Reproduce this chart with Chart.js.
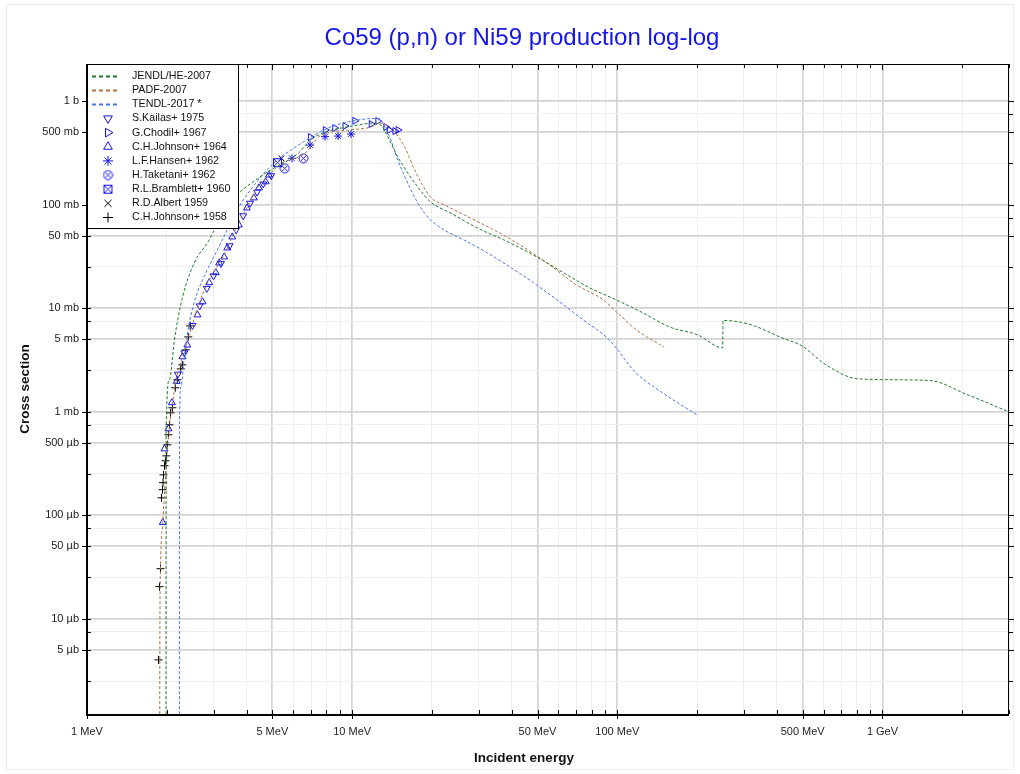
<!DOCTYPE html>
<html>
<head>
<meta charset="utf-8">
<title>Co59 (p,n) or Ni59 production log-log</title>
<script src="https://cdn.jsdelivr.net/npm/chart.js@4.4.1/dist/chart.umd.min.js"></script>
<style>
  html, body { margin: 0; padding: 0; background: #fff; }
  #wrap { position: relative; width: 1020px; height: 774px; }
</style>
</head>
<body>
<div id="wrap"><canvas id="chart" width="1020" height="774"></canvas></div>
<script>
// energies in MeV, cross sections in mb

// evaluated libraries
const jendlHE2007 = [
  [1.985, 0.00001], [1.988, 0.67], [2.046, 2.03], [2.136, 4.93], [2.295, 12.9], [2.538, 27.3],
  [2.888, 45.5], [3.288, 88.7], [3.74, 129], [4.33, 173], [4.93, 216], [5.61, 258], [6.28, 315],
  [6.96, 420], [7.92, 502], [9.10, 549], [10.53, 587], [11.99, 613], [12.84, 587], [13.64, 449],
  [14.87, 288], [16.21, 202], [17.67, 148], [19.76, 106], [23.49, 83], [29.65, 59.4], [37.4, 45.5],
  [49.7, 31.2], [62.8, 21.9], [78.6, 15.7], [99.2, 12.0], [125, 8.99], [157, 6.59], [201, 5.51],
  [249.5, 4.13], [250.5, 7.59], [312, 7.03], [418, 5.16], [497, 4.31], [612, 2.83], [813, 2.07],
  [1500, 2.0], [2100, 1.45], [3000, 0.995]
];
const padf2007 = [
  [1.877, 0.00001], [1.882, 0.0040], [1.893, 0.0297], [1.931, 0.0845], [1.988, 0.293], [2.046, 0.716],
  [2.105, 1.24], [2.167, 2.03], [2.263, 3.03], [2.363, 4.41], [2.495, 6.88], [2.65, 11.2], [2.888, 18.7],
  [3.288, 32.6], [3.523, 48.7], [3.74, 68.0], [4.01, 92.7], [4.33, 138], [4.97, 206], [5.42, 252],
  [6.28, 288], [6.84, 336], [7.46, 449], [8.34, 502], [9.66, 525], [11.78, 561], [12.73, 613],
  [14.0, 549], [15.79, 360], [17.2, 216], [19.76, 118], [22.3, 99.1], [26.5, 79.4], [33.2, 59.4],
  [41.8, 42.6], [55.6, 26.1], [70.2, 16.7], [88.6, 12.0], [99.2, 9.19], [118, 6.16], [150, 4.2]
];
const tendl2017 = [
  [2.23, 0.00001], [2.232, 0.67], [2.263, 1.75], [2.328, 3.40], [2.431, 7.19], [2.576, 12.9],
  [2.808, 21.9], [3.06, 34.1], [3.337, 53.2], [3.74, 94.8], [4.33, 161], [5.06, 252], [6.28, 376],
  [8.1, 548], [10.53, 656], [12.5, 680], [13.84, 452], [14.87, 269], [16.21, 161], [17.67, 103.6],
  [18.73, 83], [19.76, 71], [22.2, 56.9], [26.4, 45.5], [32.4, 34.1], [39.9, 24.4], [48.4, 17.5],
  [59.2, 12.0], [74.4, 7.69], [93.2, 4.93], [117.6, 2.37], [148, 1.52], [200, 0.93]
];

// experimental data (EXFOR)
const kailas1975 = [
  [2.2, 2.3], [2.33, 3.7], [2.5, 6.8], [2.66, 10.5], [2.83, 15.5], [3.0, 20.5], [3.2, 27],
  [3.45, 40], [3.65, 57], [3.88, 78], [4.12, 103], [4.38, 132], [4.62, 158], [4.95, 190]
];
const chodil1967 = [
  [6.96, 449], [7.92, 525], [8.6, 549], [9.4, 574], [10.24, 645], [11.8, 600], [12.5, 641],
  [13.4, 561], [13.8, 525], [14.5, 513], [14.9, 525]
];
const johnson1964 = [
  [1.931, 0.085], [1.96, 0.437], [2.03, 0.683], [2.09, 1.22], [2.18, 1.96], [2.29, 3.39], [2.39, 4.4],
  [2.61, 8.6], [2.73, 11.5], [2.89, 17.6], [3.06, 22.0], [3.15, 27.3], [3.29, 31.2], [3.38, 38.1],
  [3.53, 48.7], [3.74, 63.6], [4.01, 92.7], [4.26, 116], [4.45, 145], [4.72, 166], [4.85, 193]
];
const hansen1962 = [[5.93, 280], [6.94, 376], [7.9, 453], [8.85, 459], [9.9, 480]];
const taketani1962 = [[5.57, 224], [6.55, 280]];
const bramblett1960 = [[5.23, 254]];
const albert1959 = [[5.41, 280]];
const johnson1958 = [
  [1.861, 0.0040], [1.877, 0.0204], [1.893, 0.0304], [1.910, 0.147], [1.927, 0.176], [1.935, 0.206],
  [1.943, 0.245], [1.960, 0.300], [1.977, 0.335], [1.993, 0.374], [2.010, 0.478], [2.028, 0.597],
  [2.046, 0.746], [2.064, 0.973], [2.10, 1.09], [2.153, 1.70], [2.19, 2.03], [2.258, 2.59],
  [2.288, 2.83], [2.358, 3.95], [2.41, 5.27], [2.45, 6.73]
];

// axes
const xMajorTicks = [1, 5, 10, 50, 100, 500, 1000];
const xMinorTicks = [2, 3, 4, 6, 7, 8, 9, 20, 30, 40, 60, 70, 80, 90, 200, 300, 400, 600, 700, 800, 900, 2000, 3000];
const xTickLabels = ['1 MeV', '5 MeV', '10 MeV', '50 MeV', '100 MeV', '500 MeV', '1 GeV'];
const yMajorTicks = [0.005, 0.01, 0.05, 0.1, 0.5, 1, 5, 10, 50, 100, 500, 1000];
const yMinorTicks = [0.0025, 0.0075, 0.025, 0.075, 0.25, 0.75, 2.5, 7.5, 25, 75, 250, 750];
const yTickLabels = ['5 µb', '10 µb', '50 µb', '100 µb', '500 µb', '1 mb', '5 mb', '10 mb', '50 mb', '100 mb', '500 mb', '1 b'];

const FONT = '"Liberation Sans", Arial, Helvetica, sans-serif';
const BLUE = 'rgb(20,20,235)';

function toXY(arr) { return arr.map(p => ({ x: p[0], y: p[1] })); }
function sameVal(a, b) { return Math.abs(a / b - 1) < 1e-6; }
function findIdx(list, v) { return list.findIndex(t => sameVal(t, v)); }
function isMajor(list, v) { return findIdx(list, v) >= 0; }

function markerCanvas(kind, color) {
  const c = document.createElement('canvas');
  c.width = 11; c.height = 11;
  const g = c.getContext('2d');
  g.strokeStyle = color;
  g.lineWidth = 1;
  if (kind === 'circleX') {
    g.beginPath(); g.arc(5.5, 5.5, 4.5, 0, Math.PI * 2); g.stroke();
    const d = 4.5 * Math.SQRT1_2;
    g.beginPath();
    g.moveTo(5.5 - d, 5.5 - d); g.lineTo(5.5 + d, 5.5 + d);
    g.moveTo(5.5 + d, 5.5 - d); g.lineTo(5.5 - d, 5.5 + d);
    g.stroke();
  } else {
    g.strokeRect(1.5, 1.5, 8, 8);
    g.beginPath();
    g.moveTo(1.5, 1.5); g.lineTo(9.5, 9.5);
    g.moveTo(9.5, 1.5); g.lineTo(1.5, 9.5);
    g.stroke();
  }
  return c;
}

function lineSet(label, data, color) {
  return {
    label, data: toXY(data), borderColor: color, backgroundColor: color,
    borderWidth: 1, borderDash: [3, 2], pointRadius: 0, showLine: true,
    cubicInterpolationMode: 'monotone'
  };
}
function pointSet(label, data, color, style, rotation) {
  return {
    label, data: toXY(data), borderColor: color, backgroundColor: 'rgba(0,0,0,0)',
    showLine: false, pointStyle: style, pointRotation: rotation || 0,
    pointRadius: 4, borderWidth: 1
  };
}

const datasets = [
  lineSet('JENDL/HE-2007', jendlHE2007, 'rgb(30,125,40)'),
  lineSet('PADF-2007', padf2007, 'rgb(175,115,65)'),
  lineSet('TENDL-2017 *', tendl2017, 'rgb(70,120,240)'),
  pointSet('S.Kailas+ 1975', kailas1975, BLUE, 'triangle', 180),
  pointSet('G.Chodil+ 1967', chodil1967, BLUE, 'triangle', 90),
  pointSet('C.H.Johnson+ 1964', johnson1964, BLUE, 'triangle', 0),
  pointSet('L.F.Hansen+ 1962', hansen1962, BLUE, 'star', 0),
  pointSet('H.Taketani+ 1962', taketani1962, BLUE, markerCanvas('circleX', BLUE), 0),
  pointSet('R.L.Bramblett+ 1960', bramblett1960, BLUE, markerCanvas('squareX', BLUE), 0),
  pointSet('R.D.Albert 1959', albert1959, '#000', 'crossRot', 0),
  pointSet('C.H.Johnson+ 1958', johnson1958, '#000', 'cross', 0)
];

const xAll = xMajorTicks.concat(xMinorTicks).sort((a, b) => a - b);
const yAll = yMajorTicks.concat(yMinorTicks).sort((a, b) => a - b);

const gridColor = (major) => (ctx) => isMajor(major, ctx.tick.value) ? '#d4d4d4' : '#eeeeee';
const gridWidth = (major) => (ctx) => isMajor(major, ctx.tick.value) ? 1.7 : 1;

// frame, tick marks, titles and the boxed legend
const decorations = {
  id: 'decorations',
  afterDraw(chart) {
    const { ctx, chartArea: a, scales } = chart;
    ctx.save();

    // faint page border
    ctx.strokeStyle = '#ececec';
    ctx.lineWidth = 1;
    ctx.strokeRect(6.5, 4.5, 1007, 765);

    // tick marks
    ctx.strokeStyle = '#000';
    ctx.lineWidth = 1;
    ctx.beginPath();
    scales.x.ticks.forEach(t => {
      const px = Math.round(scales.x.getPixelForValue(t.value)) + 0.5;
      const big = isMajor(xMajorTicks, t.value);
      ctx.moveTo(px, a.bottom + (big ? 5 : 0)); ctx.lineTo(px, a.bottom - 4);
      ctx.moveTo(px, a.top); ctx.lineTo(px, a.top + (big ? 6 : 4));
    });
    scales.y.ticks.forEach(t => {
      const py = Math.round(scales.y.getPixelForValue(t.value)) + 0.5;
      const big = isMajor(yMajorTicks, t.value);
      ctx.moveTo(a.left - (big ? 5 : 0), py); ctx.lineTo(a.left + 4, py);
      ctx.moveTo(a.right, py); ctx.lineTo(a.right + (big ? 5 : 4), py);
    });
    ctx.stroke();

    // frame
    ctx.lineWidth = 1;
    ctx.strokeRect(a.left + 0.5, a.top + 0.5, a.right - a.left - 1, a.bottom - a.top);
    ctx.lineWidth = 2;
    ctx.beginPath();
    ctx.moveTo(a.left, a.top); ctx.lineTo(a.left, a.bottom + 1);
    ctx.lineTo(a.right, a.bottom + 1);
    ctx.stroke();

    // titles
    ctx.fillStyle = BLUE;
    ctx.font = '24px ' + FONT;
    ctx.textAlign = 'center';
    ctx.textBaseline = 'alphabetic';
    ctx.fillText('Co59 (p,n) or Ni59 production log-log', 522, 45);

    ctx.fillStyle = '#111';
    ctx.font = 'bold 13.5px ' + FONT;
    ctx.textBaseline = 'middle';
    ctx.fillText('Incident energy', 524, 758);
    ctx.save();
    ctx.translate(25, 389);
    ctx.rotate(-Math.PI / 2);
    ctx.fillText('Cross section', 0, 0);
    ctx.restore();

    // legend box
    const lx = a.left, ly = a.top, lw = 151, lh = 164, row = 14.15;
    ctx.fillStyle = '#fff';
    ctx.fillRect(lx, ly, lw, lh);
    ctx.strokeStyle = '#000';
    ctx.lineWidth = 1;
    ctx.strokeRect(lx + 0.5, ly + 0.5, lw, lh);
    ctx.font = '10.7px ' + FONT;
    ctx.textAlign = 'left';
    ctx.textBaseline = 'middle';
    chart.data.datasets.forEach((ds, i) => {
      const y = ly + 12 + i * row;
      if (ds.showLine) {
        ctx.save();
        ctx.strokeStyle = ds.borderColor;
        ctx.lineWidth = 2;
        ctx.setLineDash([4, 3]);
        ctx.beginPath();
        ctx.moveTo(lx + 5, Math.round(y) + 0.5); ctx.lineTo(lx + 30, Math.round(y) + 0.5);
        ctx.stroke();
        ctx.restore();
      } else {
        ctx.save();
        ctx.strokeStyle = ds.borderColor;
        ctx.fillStyle = 'rgba(0,0,0,0)';
        Chart.helpers.drawPoint(ctx, {
          pointStyle: ds.pointStyle, rotation: ds.pointRotation, radius: 5, borderWidth: 1
        }, lx + 21, y);
        ctx.restore();
      }
      ctx.fillStyle = '#111';
      ctx.fillText(ds.label, lx + 45, y);
    });
    ctx.restore();
  }
};

new Chart(document.getElementById('chart'), {
  type: 'scatter',
  data: { datasets },
  options: {
    responsive: false,
    animation: false,
    devicePixelRatio: 1,
    layout: { padding: { top: 64, right: 5, left: 0, bottom: 0 } },
    plugins: { legend: { display: false }, title: { display: false }, tooltip: { enabled: false } },
    scales: {
      x: {
        type: 'logarithmic', min: 1, max: 3000,
        afterBuildTicks: s => { s.ticks = xAll.map(v => ({ value: v })); },
        afterFit: s => { s.height = 60; },
        border: { display: false },
        grid: { drawTicks: false, color: gridColor(xMajorTicks), lineWidth: gridWidth(xMajorTicks) },
        ticks: {
          autoSkip: false, maxRotation: 0, padding: 11, color: '#222',
          font: { family: FONT, size: 11 },
          callback: v => { const i = findIdx(xMajorTicks, v); return i >= 0 ? xTickLabels[i] : ''; }
        }
      },
      y: {
        type: 'logarithmic', min: 0.0012, max: 2280,
        afterBuildTicks: s => { s.ticks = yAll.map(v => ({ value: v })); },
        afterFit: s => { s.width = 87; },
        border: { display: false },
        grid: { drawTicks: false, color: gridColor(yMajorTicks), lineWidth: gridWidth(yMajorTicks) },
        ticks: {
          autoSkip: false, padding: 8, color: '#222',
          font: { family: FONT, size: 11 },
          callback: v => { const i = findIdx(yMajorTicks, v); return i >= 0 ? yTickLabels[i] : ''; }
        }
      }
    }
  },
  plugins: [decorations]
});
</script>
</body>
</html>
